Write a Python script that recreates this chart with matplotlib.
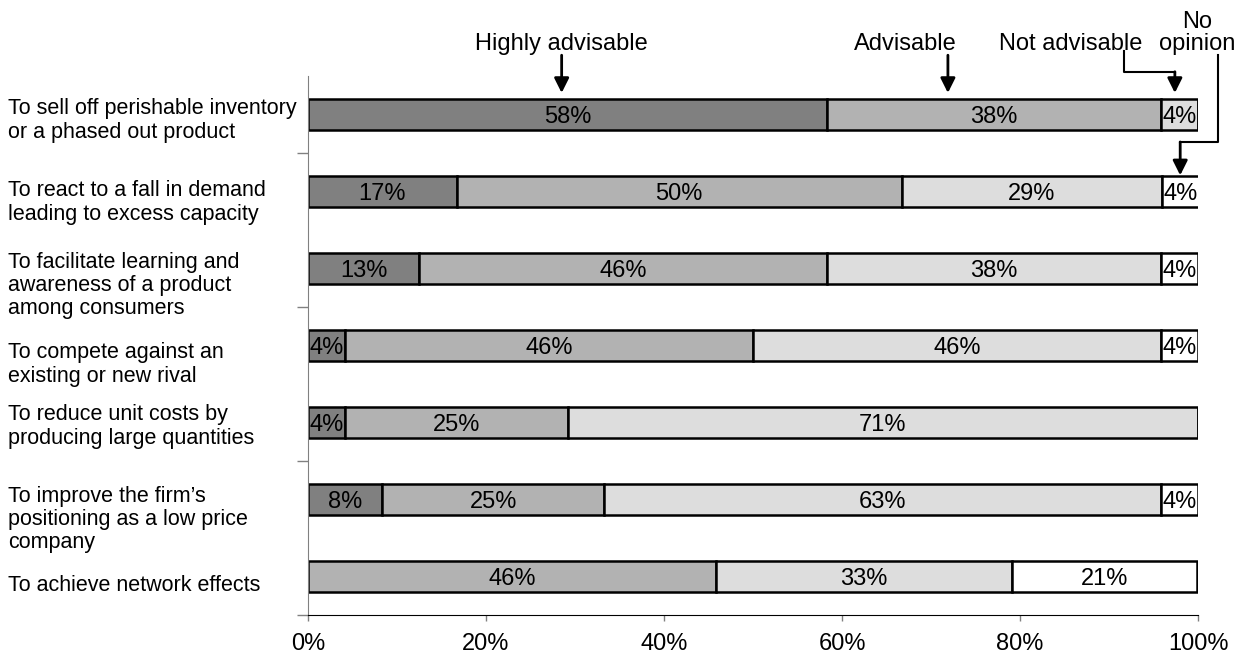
import numpy as np
import matplotlib.pyplot as plt
from matplotlib.transforms import blended_transform_factory

plt.rcParams['font.family'] = ['Liberation Sans', 'DejaVu Sans']

# Reasons asked about (top to bottom)
reasons = [
    "To sell off perishable inventory\nor a phased out product",
    "To react to a fall in demand\nleading to excess capacity",
    "To facilitate learning and\nawareness of a product\namong consumers",
    "To compete against an\nexisting or new rival",
    "To reduce unit costs by\nproducing large quantities",
    "To improve the firm\u2019s\npositioning as a low price\ncompany",
    "To achieve network effects",
]

# Share of respondents (%) per answer
highly = [58.3, 16.7, 12.5, 4.2, 4.2, 8.3, 0]
advisable = [37.5, 50.0, 45.8, 45.8, 25.0, 25.0, 45.8]
not_adv = [4.2, 29.2, 37.5, 45.8, 70.8, 62.5, 33.3]
no_opinion = [0, 4.2, 4.2, 4.2, 0, 4.2, 20.8]

series = [highly, advisable, not_adv, no_opinion]
colors = ["#808080", "#b2b2b2", "#dddddd", "#ffffff"]

# small vertical nudges (pixels) of the category labels, as in the original layout
label_nudge_px = [6, 11, 17, 19, 4, 20, 9]

fig = plt.figure(figsize=(12.43, 6.57), dpi=100)
ax = fig.add_axes([308/1243, 1-615/657, 890/1243, 539/657])

y = np.arange(len(reasons))
left = np.zeros(len(reasons))
for vals, col in zip(series, colors):
    vals = np.array(vals)
    ax.barh(y, vals, left=left, height=0.4, color=col, edgecolor="black", linewidth=1.8)
    for yi, l, v in zip(y, left, vals):
        if v > 0:
            ax.text(l + v/2, yi + 0.03, f"{int(v + 0.5)}%", ha="center", va="center", fontsize=17)
    left += vals

ax.set_xlim(0, 100)
ax.set_ylim(6.5, -0.5)
ax.set_xticks(range(0, 101, 20))
ax.set_xticklabels([f"{t}%" for t in range(0, 101, 20)], fontsize=17)
ax.set_yticks([0.5, 2.5, 4.5, 6.5])
ax.set_yticklabels([])
ax.tick_params(axis="y", length=8, color="#808080", width=1)
ax.tick_params(axis="x", length=4, color="#808080", width=1, pad=9)
ax.spines["top"].set_visible(False)
ax.spines["right"].set_visible(False)
ax.spines["left"].set_color("#808080")
ax.spines["bottom"].set_color("black")

# category labels on the left
tr = blended_transform_factory(fig.transFigure, ax.transData)
for yi, lab, nd in zip(y, reasons, label_nudge_px):
    ax.text(8/1243, yi + nd/77, lab, transform=tr, ha="left", va="center",
            fontsize=15.5, linespacing=1.13)

# legend labels with arrows
arrow = dict(arrowstyle="-|>", color="black", lw=2, mutation_scale=22, shrinkA=0, shrinkB=0)
ax.text(28.5, -0.92, "Highly advisable", ha="center", va="center", fontsize=17)
ax.annotate("", xy=(28.5, -0.28), xytext=(28.5, -0.77), arrowprops=arrow, annotation_clip=False)

ax.text(67.1, -0.92, "Advisable", ha="center", va="center", fontsize=17)
ax.annotate("", xy=(71.9, -0.28), xytext=(71.9, -0.77), arrowprops=arrow, annotation_clip=False)

ax.text(85.7, -0.92, "Not advisable", ha="center", va="center", fontsize=17)
ax.plot([91.7, 91.7, 97.4], [-0.82, -0.555, -0.555], color="black", lw=1.5, clip_on=False)
ax.annotate("", xy=(97.4, -0.28), xytext=(97.4, -0.555), arrowprops=arrow, annotation_clip=False)

ax.text(99.9, -1.06, "No\nopinion", ha="center", va="center", fontsize=17, linespacing=1.0)
ax.plot([102.2, 102.2, 98.0], [-0.77, 0.357, 0.357], color="black", lw=1.5, clip_on=False)
ax.annotate("", xy=(98.0, 0.79), xytext=(98.0, 0.357), arrowprops=arrow, annotation_clip=False)

fig.savefig("out.png", dpi=100)
